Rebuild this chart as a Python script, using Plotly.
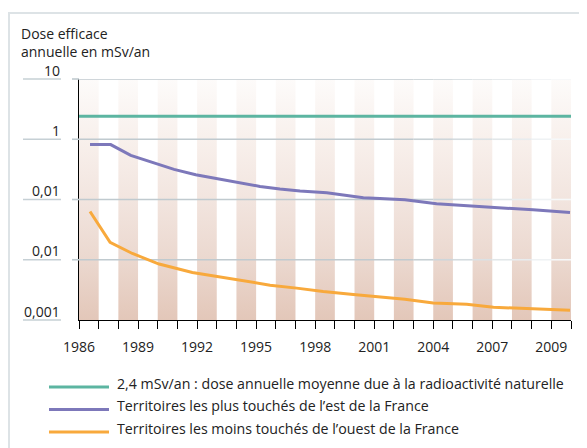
import math
import plotly.graph_objects as go

# Données (mSv/an)
natural_dose = 2.4
natural_years = [1986, 2011]

east_years = [1986.56, 1987.61, 1988.63, 1989.64, 1990.83, 1991.93, 1993.11, 1994.38,
              1995.2, 1996.21, 1997.23, 1998.59, 1999.26, 2000.45, 2001.29, 2002.56,
              2004.17, 2005.7, 2007.39, 2009.07, 2010.95]
east_dose = [0.816, 0.816, 0.541, 0.418, 0.316, 0.258, 0.221, 0.187,
             0.165, 0.149, 0.138, 0.129, 0.120, 0.107, 0.104, 0.0989,
             0.0848, 0.0794, 0.0727, 0.0674, 0.0607]

west_years = [1986.56, 1987.58, 1988.71, 1990.07, 1991.76, 1992.77, 1994.3, 1995.71,
              1997.06, 1998.41, 1999.94, 2001.29, 2002.56, 2004.0, 2005.7, 2007.06,
              2008.24, 2009.43, 2010.95]
west_dose = [0.0631, 0.0194, 0.0127, 0.00848, 0.00614, 0.00541, 0.00441, 0.00379,
             0.00338, 0.00296, 0.00264, 0.00242, 0.00221, 0.00192, 0.00183, 0.00163,
             0.00158, 0.00153, 0.00145]

y_tick_vals = [10, 1, 0.1, 0.01, 0.001]
y_tick_text = ["10", "1", "0,01", "0,01", "0,001"]
x_tick_vals = [1986, 1989, 1992, 1995, 1998, 2001, 2004, 2007, 2010]
x_tick_text = ["1986", "1989", "1992", "1995", "1998", "2001", "2004", "2007", "2009"]

names = ["2,4 mSv/an : dose annuelle moyenne due à la radioactivité naturelle",
         "Territoires les plus touchés de l’est de la France",
         "Territoires les moins touchés de l’ouest de la France"]
colors = ["#5cb5a1", "#7d78ba", "#f8a93c"]

FONT = "Open Sans"
X0, X1 = 1986, 2011
YMIN, YMAX = 0.001, 10

# la page a une marge de 8px : on travaille en pixels de page
OFF = 8
PAGE_W, PAGE_H = 587, 448
PL, PR, PT, PB = 79, 571, 79, 320   # zone de tracé en pixels de page
W, H = PAGE_W - OFF, PAGE_H - OFF
L, T = PL - OFF, PT - OFF
R, B = W - (PR - OFF), H - (PB - OFF)
pw, ph = PR - PL, PB - PT


def px(x):
    return (x - PL) / pw


def py(y):
    return (PB - y) / ph


fig = go.Figure()

# bandes verticales en dégradé
sx, sy = [], []
for yr in range(X0, X1, 2):
    sx += [yr, yr + 1, yr + 1, yr, yr, None]
    sy += [YMIN, YMIN, YMAX, YMAX, YMIN, None]
fig.add_trace(go.Scatter(
    x=sx, y=sy, mode="none", fill="toself", hoverinfo="skip", showlegend=False,
    fillgradient=dict(type="vertical",
                      colorscale=[[0, "#e3c7b9"], [0.25, "#ebd8cf"], [0.5, "#f2e5df"],
                                  [0.75, "#f8f0ec"], [1, "#fdfbfa"]])))

# lignes de grille qui s'estompent vers la droite
grid_vals = [v for v in y_tick_vals if v > YMIN]
steps = [(1986, 2003)] + [(2003 + i, 2004 + i) for i in range(8)]
c0, c1 = (192, 202, 207), (246, 248, 249)
for i, (a, b) in enumerate(steps):
    t = 0 if i == 0 else i / (len(steps) - 1)
    col = "rgb({},{},{})".format(*[round(c0[k] + (c1[k] - c0[k]) * t) for k in range(3)])
    gx, gy = [], []
    for v in grid_vals:
        gx += [a, min(b, X1), None]
        gy += [v, v, None]
    fig.add_trace(go.Scatter(x=gx, y=gy, mode="lines", line=dict(color=col, width=1.6),
                             hoverinfo="skip", showlegend=False))

fig.add_trace(go.Scatter(x=natural_years, y=[natural_dose] * 2, mode="lines",
                         name=names[0], line=dict(color=colors[0], width=3), showlegend=False))
fig.add_trace(go.Scatter(x=east_years, y=east_dose, mode="lines",
                         name=names[1], line=dict(color=colors[1], width=3), showlegend=False))
fig.add_trace(go.Scatter(x=west_years, y=west_dose, mode="lines",
                         name=names[2], line=dict(color=colors[2], width=3), showlegend=False))

shapes = []
annotations = []
for v, txt in zip(y_tick_vals, y_tick_text):
    yp = (math.log10(v) - math.log10(YMIN)) / (math.log10(YMAX) - math.log10(YMIN))
    shapes.append(dict(type="line", xref="paper", yref="paper", x0=px(23), x1=px(61),
                       y0=yp, y1=yp, line=dict(color="#c6d0d5", width=1.6)))
    if v > YMIN:
        shapes.append(dict(type="line", xref="paper", yref="paper", x0=px(72), x1=0,
                           y0=yp, y1=yp, line=dict(color="#c0cacf", width=1.6)))
    annotations.append(dict(text=txt, xref="paper", yref="paper", x=px(62), y=yp,
                            xanchor="right", yanchor="middle", yshift=9, showarrow=False,
                            font=dict(family=FONT, size=14, color="#222")))

# cadre
shapes.append(dict(type="path", xref="paper", yref="paper",
                   path="M {} {} L {} {} L {} {}".format(px(9), py(460), px(9), py(13), px(600), py(13)),
                   line=dict(color="#dde3e6", width=2)))

annotations.append(dict(text="Dose efficace<br>annuelle en mSv/an", xref="paper", yref="paper",
                        x=px(19), y=py(33), xanchor="left", yanchor="middle", align="left",
                        yshift=-9, showarrow=False, font=dict(family=FONT, size=14, color="#222")))

# légende
leg_line_y = [387, 409.5, 432]
for name, col, ly in zip(names, colors, leg_line_y):
    shapes.append(dict(type="line", xref="paper", yref="paper", x0=px(49), x1=px(109),
                       y0=py(ly), y1=py(ly), line=dict(color=col, width=3)))
    annotations.append(dict(text=name, xref="paper", yref="paper", x=px(115), y=py(ly - 4),
                            xanchor="left", yanchor="middle", showarrow=False,
                            font=dict(family=FONT, size=14.2, color="#222")))

fig.update_layout(
    width=W, height=H, margin=dict(l=L, r=R, t=T, b=B),
    paper_bgcolor="white", plot_bgcolor="white",
    shapes=shapes, annotations=annotations,
    xaxis=dict(range=[X0, X1], showgrid=False, zeroline=False,
               showline=True, linecolor="black", linewidth=1.2,
               tickmode="array", tickvals=list(range(X0, X1 + 1)),
               ticktext=[x_tick_text[x_tick_vals.index(y)] if y in x_tick_vals else ""
                         for y in range(X0, X1 + 1)],
               ticks="outside", ticklen=8, tickcolor="black", tickwidth=1.2,
               ticklabelstandoff=6,
               tickfont=dict(family=FONT, size=14, color="#222")),
    yaxis=dict(type="log", range=[math.log10(YMIN), math.log10(YMAX)], showgrid=False,
               zeroline=False, showline=True, linecolor="black", linewidth=1.2,
               showticklabels=False, ticks=""),
)

fig.write_html("out.html")
